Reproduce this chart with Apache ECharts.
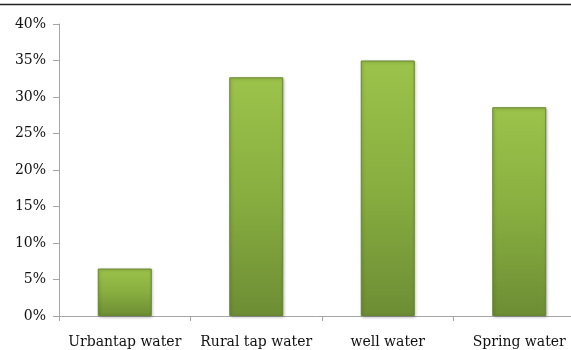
<!DOCTYPE html>
<html><head><meta charset="utf-8">
<script src="https://cdn.jsdelivr.net/npm/echarts@6/dist/echarts.min.js"></script>
<style>html,body{margin:0;padding:0;background:#fff}#c{width:571px;height:350px}</style>
</head><body><div id="c"></div>
<script>
var categories = ["Urbantap water", "Rural tap water", "well water", "Spring water"];
var values = [6.5, 32.7, 35.0, 28.6];
var yTicks = [0, 5, 10, 15, 20, 25, 30, 35, 40];

var chart = echarts.init(document.getElementById('c'));
var font = '"DejaVu Serif", serif';
chart.setOption({
  animation: false,
  graphic: [{
    type: 'line', shape: {x1: 0, y1: 4.5, x2: 571, y2: 4.5},
    style: {stroke: '#222', lineWidth: 1.5}
  }],
  grid: {left: 59, top: 24, right: -14, bottom: 34, outerBoundsMode: 'none', containLabel: false},
  xAxis: {
    type: 'category', data: categories,
    axisLine: {lineStyle: {color: '#a6a6a6'}},
    axisTick: {show: true, length: 5, lineStyle: {color: '#a6a6a6'}},
    axisLabel: {color: '#111', fontFamily: font, fontSize: 14, margin: 19, interval: 0, hideOverlap: false}
  },
  yAxis: {
    type: 'value', min: 0, max: 40, interval: 5,
    axisLine: {show: true, lineStyle: {color: '#a6a6a6'}},
    axisTick: {show: true, length: 6, lineStyle: {color: '#a6a6a6'}},
    splitLine: {show: false},
    axisLabel: {color: '#111', fontFamily: font, fontSize: 14, margin: 13,
      formatter: function (v) { return yTicks.indexOf(v) >= 0 ? v + '%' : ''; }}
  },
  series: [{
    type: 'bar', data: values, barWidth: 54,
    itemStyle: {
      color: new echarts.graphic.LinearGradient(0, 0, 0, 1, [
        {offset: 0, color: '#9cc34a'},
        {offset: 0.5, color: '#88ae40'},
        {offset: 1, color: '#6d8d34'}
      ]),
      borderColor: '#67852f', borderWidth: 1,
      shadowColor: 'rgba(0,0,0,0.25)', shadowBlur: 3, shadowOffsetX: 1, shadowOffsetY: 1
    }
  }]
});
</script></body></html>
